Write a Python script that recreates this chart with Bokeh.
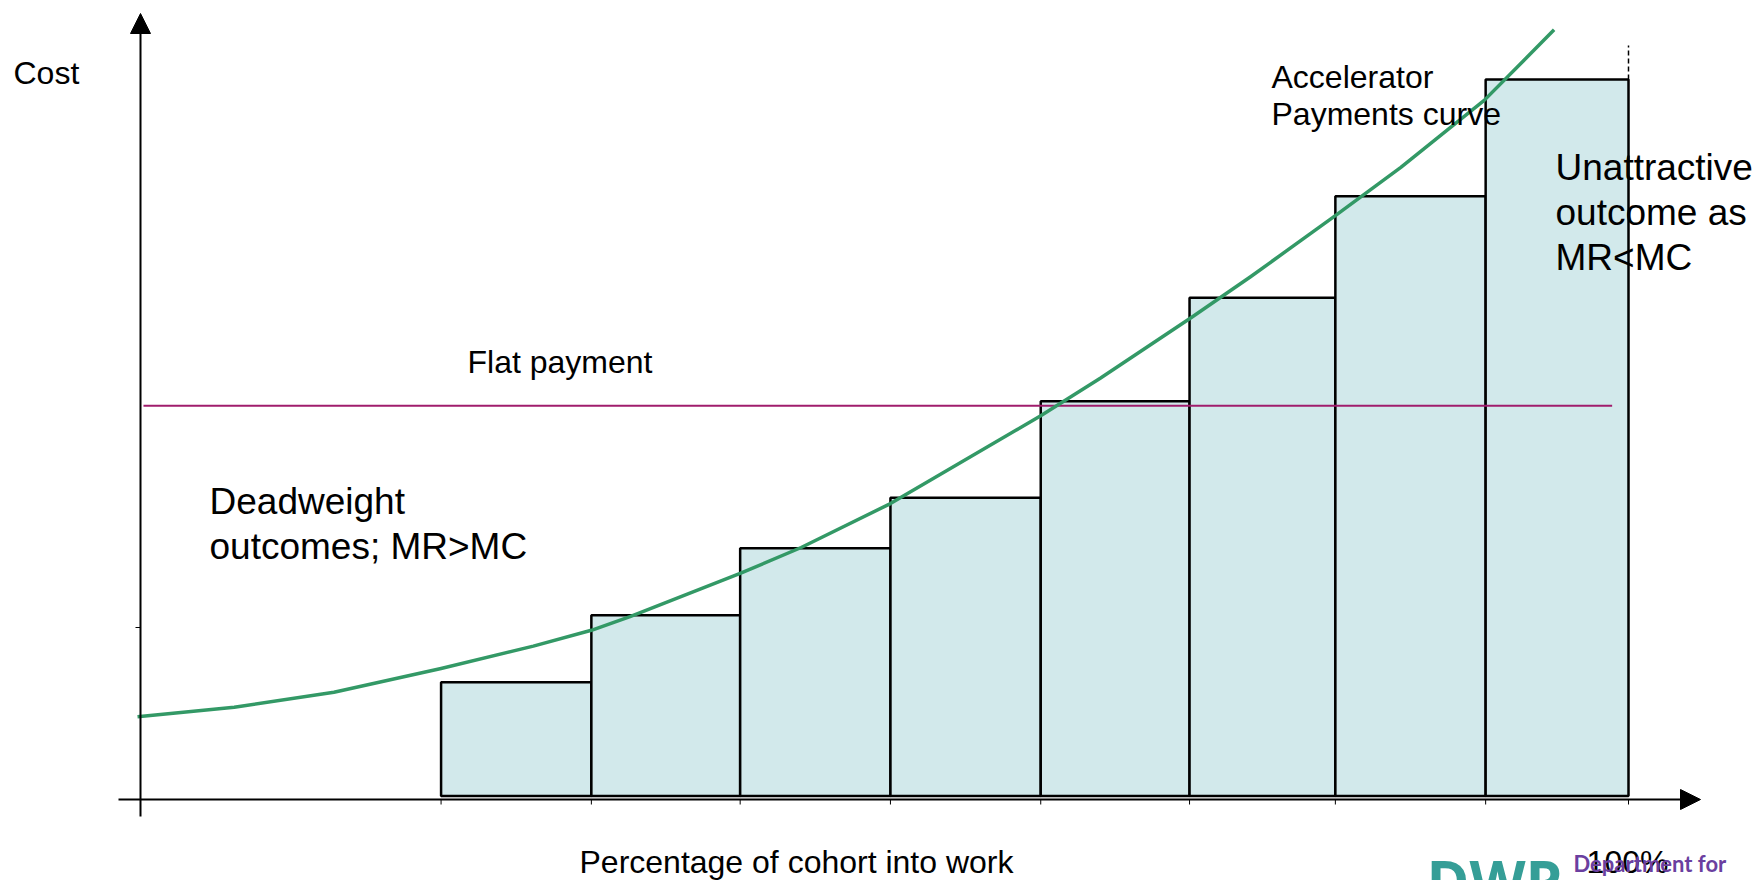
from bokeh.plotting import figure
from bokeh.models import Range1d, Arrow, NormalHead
from bokeh.embed import file_html
from bokeh.resources import INLINE
from bokeh.core.properties import value

# ---------------- data ----------------
# x: percentage of cohort into work (0..100), y: cost (arbitrary units, last bar = 100)
bar_edges = [20.2, 30.3, 40.3, 50.4, 60.5, 70.5, 80.3, 90.4, 100.0]
bar_costs = [16.3, 25.6, 34.9, 41.9, 55.3, 69.7, 83.8, 100.0]

curve_x = [-0.2, 6.3, 13.0, 20.2, 26.4, 30.3, 32.9, 40.3, 44.4, 50.4,
           60.5, 64.5, 70.6, 74.6, 80.3, 84.7, 90.3, 95.0]
curve_y = [11.5, 12.8, 14.9, 18.2, 21.3, 23.5, 25.4, 31.4, 35.0, 41.1,
           53.3, 58.5, 66.9, 72.6, 81.1, 87.8, 97.1, 106.9]

flat_payment = 54.7
flat_x = [0.2, 98.9]

x_label = "Percentage of cohort into work"
y_label = "Cost"
end_tick_label = "100%"

# ---------------- layout helpers (screen px -> data) ----------------
W, H = 1757, 880
PAGE = 0
X0, XS = 140.0, 14.88   # screen x of 0%, px per %
Y0, YS = 799.0, 7.2     # screen y of zero cost, px per unit
TEXT_DY = 11            # text baseline correction (px, upwards)


def dx(sx):
    return (sx - X0) / XS


def dy(sy):
    return (Y0 - sy) / YS


def ty(sy):
    return dy(sy - TEXT_DY)


p = figure(width=W, height=H, output_backend="svg", toolbar_location=None,
           x_range=Range1d(dx(PAGE), dx(PAGE + W)),
           y_range=Range1d(dy(PAGE + H), dy(PAGE)),
           x_axis_type=None, y_axis_type=None,
           min_border=0, min_border_left=0, min_border_right=0,
           min_border_top=0, min_border_bottom=0)
p.grid.visible = False
p.outline_line_color = None
p.background_fill_color = "white"
p.border_fill_color = "white"
p.margin = (0, 0, -8, 0)

FONT = value("Liberation Sans")

# bars
BAR_BASE = 0.5
p.quad(left=bar_edges[:-1], right=bar_edges[1:], bottom=BAR_BASE, top=bar_costs,
       fill_color="#d2e9eb", line_color="black", line_width=2.5)

# dashed line at 100%
p.segment(x0=[bar_edges[-1]], y0=[bar_costs[-1]], x1=[bar_edges[-1]], y1=[dy(45)],
          line_color="black", line_width=1.5, line_dash="5 3")

# flat payment line
p.line(flat_x, [flat_payment, flat_payment], line_color="#a01c6c", line_width=2)

# accelerator curve
p.line(curve_x, curve_y, line_color="#339966", line_width=3.5, line_join="round")

# axes with arrows
head = dict(size=20, fill_color="black", line_color="black")
p.add_layout(Arrow(end=NormalHead(**head), x_start=0, y_start=dy(816), x_end=0, y_end=dy(13),
                   line_color="black", line_width=2))
p.add_layout(Arrow(end=NormalHead(**head), x_start=dx(118), y_start=0, x_end=dx(1700), y_end=0,
                   line_color="black", line_width=2))

# small ticks at bar edges below x-axis
p.segment(x0=bar_edges, y0=[0] * len(bar_edges), x1=bar_edges, y1=[dy(804)] * len(bar_edges),
          line_color="black", line_width=1)
# small tick left of y axis
p.segment(x0=[dx(135)], y0=[dy(627)], x1=[0], y1=[dy(627)], line_color="black", line_width=1)

# texts
small = [
    (y_label, 13, 83, "left"),
    ("Accelerator", 1271, 87, "left"),
    ("Payments curve", 1271, 124, "left"),
    ("Flat payment", 467, 372, "left"),
    (x_label, 796, 872, "center"),
    (end_tick_label, 1627, 872, "center"),
]
for t, sx, sy, al in small:
    p.text(x=[dx(sx)], y=[ty(sy)], text=[t], text_font=FONT, text_font_size="32px",
           text_align=al, text_baseline="alphabetic", text_color="black")

big = [
    ("Deadweight", 209, 512),
    ("outcomes; MR>MC", 209, 557),
    ("Unattractive", 1555, 178),
    ("outcome as", 1555, 223),
    ("MR<MC", 1555, 268),
]
for t, sx, sy in big:
    p.text(x=[dx(sx)], y=[ty(sy)], text=[t], text_font=FONT, text_font_size="37px",
           text_align="left", text_baseline="alphabetic", text_color="black")

# DWP logo (cut off at bottom)
p.text(x=[dx(1426)], y=[ty(890)], text=["DWP"], text_font=value("Open Sans"), text_font_size="58px",
       text_font_style="bold", text_align="left", text_baseline="alphabetic", text_color="#359e97")
p.text(x=[dx(1573)], y=[ty(874)], text=["Department for"], text_font=value("Lato"),
       text_font_size="22px", text_font_style="bold", text_align="left",
       text_baseline="alphabetic", text_color="#6b3fa0")

open("out.html", "w").write(file_html(p, INLINE))
